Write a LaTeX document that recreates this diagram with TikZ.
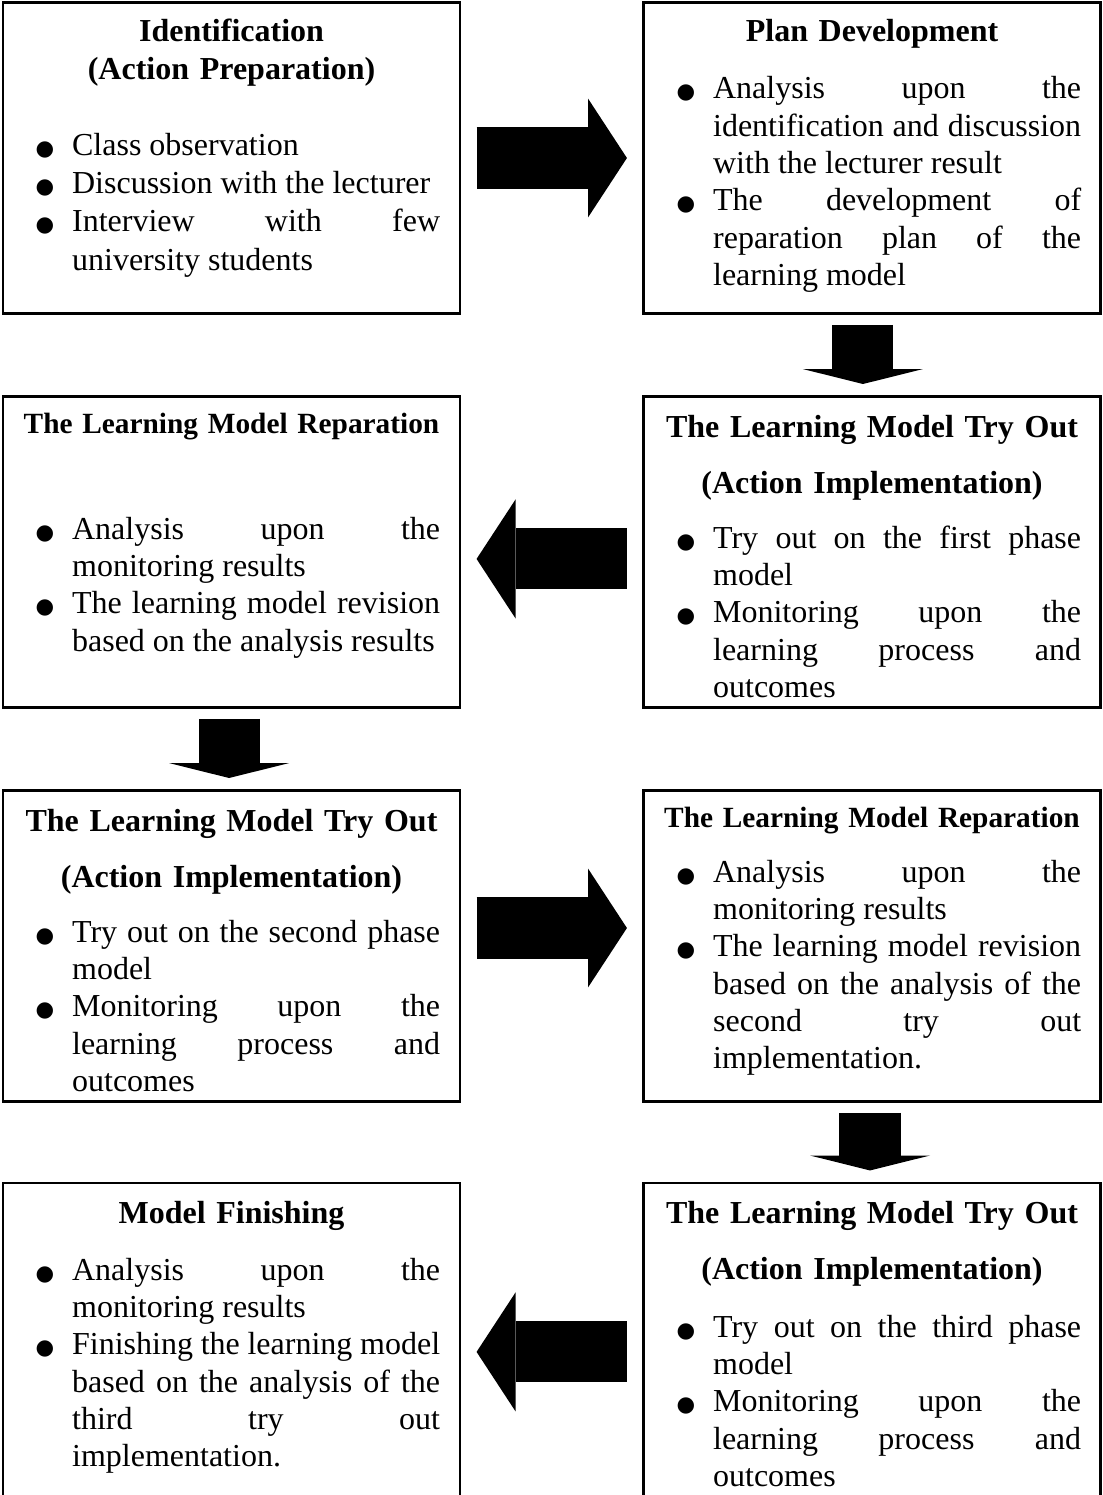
\documentclass[tikz,border=0pt]{standalone}
\usepackage{fontspec}
\setmainfont{Liberation Serif}
\newfontfamily\dotfont{DejaVu Sans}
\usetikzlibrary{arrows.meta, positioning, calc}

\tolerance=10000
\hbadness=10000
\hyphenpenalty=10000

% bullet with a hanging indent
\newcommand{\bitem}{\leavevmode\hangindent=13.35pt\hangafter=1%
    \makebox[13.35pt][l]{\hspace{-0.3pt}{\dotfont\fontsize{8pt}{8pt}\selectfont ●}}}

\begin{document}
\begin{tikzpicture}[
    x=0.375pt, y=-0.375pt,
    box/.style={
        draw,
        line width=0.8pt,
        minimum width=171.4pt,
        minimum height=116.6pt,
        inner sep=0pt,
        outer sep=0pt
    },
    lastbox/.style={box, minimum height=118.9pt},
    heading/.style={
        anchor=base,
        text width=165pt,
        align=center,
        inner sep=0pt,
        font=\fontsize{12pt}{14pt}\selectfont\bfseries
    },
    tryout/.style={heading, font=\fontsize{12pt}{21pt}\selectfont\bfseries},
    reparation/.style={heading, font=\fontsize{11pt}{13pt}\selectfont\bfseries},
    items/.style={
        anchor=base west,
        text width=151.35pt,
        align=justify,
        inner sep=0pt,
        font=\fontsize{12pt}{14pt}\selectfont
    },
    hflow/.style={line width=22.9pt, -{Triangle[length=14.6pt 0, width=44.6pt 0, line width=0pt 0]}, shorten <=6.2pt, shorten >=6.2pt},
    vflow/.style={line width=22.9pt, -{Triangle[length=5.6pt 0, width=45pt 0, line width=0pt 0]}, shorten <=4.3pt, shorten >=4.7pt}
]

% Page
\useasboundingbox (0,0) rectangle (1102,1495);
\clip (0,0) rectangle (1102,1495);
\fill[white] (0,0) rectangle (1102,1495);

% Boxes
\node[box] (ident) at (231.5, 158) {};
\node[box] (plan) at (872, 158) {};
\node[box] (repair1) at (231.5, 552) {};
\node[box] (try1) at (872, 552) {};
\node[box] (try2) at (231.5, 946) {};
\node[box] (repair2) at (872, 946) {};
\node[lastbox] (finish) at (231.5, 1341.5) {};
\node[lastbox] (try3) at (872, 1341.5) {};

% Identification
\node[heading] (ident-title) at (231.5, 42) {Identification\\(Action Preparation)};
\node[items, font=\fontsize{12pt}{14.4pt}\selectfont] (ident-list) at (36, 155) {\bitem Class observation\par
    \bitem Discussion with the lecturer\par
    \bitem Interview with few \linebreak university students\par};

% Plan Development
\node[heading] (plan-title) at (872, 42) {Plan Development};
\node[items] (plan-list) at (677, 99) {\bitem Analysis upon the \linebreak identification and discussion \linebreak with the lecturer result\par
    \bitem The development of \linebreak reparation plan of the \linebreak learning model\par};

% First try out
\node[tryout] (try1-title) at (872, 437) {The Learning Model Try Out\\(Action Implementation)};
\node[items] (try1-list) at (677, 548) {\bitem Try out on the first phase \linebreak model\par
    \bitem Monitoring upon the \linebreak learning process and \linebreak outcomes\par};

% First reparation
\node[reparation] (repair1-title) at (231.5, 433) {The Learning Model Reparation};
\node[items] (repair1-list) at (36, 539) {\bitem Analysis upon the \linebreak monitoring results\par
    \bitem The learning model revision \linebreak based on the analysis results\par};

% Second try out
\node[tryout] (try2-title) at (231.5, 831) {The Learning Model Try Out\\(Action Implementation)};
\node[items] (try2-list) at (36, 942) {\bitem Try out on the second phase \linebreak model\par
    \bitem Monitoring upon the \linebreak learning process and \linebreak outcomes\par};

% Second reparation
\node[reparation] (repair2-title) at (872, 827) {The Learning Model Reparation};
\node[items] (repair2-list) at (677, 882) {\bitem Analysis upon the \linebreak monitoring results\par
    \bitem The learning model revision \linebreak based on the analysis of the \linebreak second try out \linebreak implementation.\par};

% Third try out
\node[tryout] (try3-title) at (872, 1223) {The Learning Model Try Out\\(Action Implementation)};
\node[items] (try3-list) at (677, 1337) {\bitem Try out on the third phase \linebreak model\par
    \bitem Monitoring upon the \linebreak learning process and \linebreak outcomes\par};

% Model Finishing
\node[heading] (finish-title) at (231.5, 1223) {Model Finishing};
\node[items] (finish-list) at (36, 1280) {\bitem Analysis upon the \linebreak monitoring results\par
    \bitem Finishing the learning model \linebreak based on the analysis of the \linebreak third try out \linebreak implementation.\par};

% Horizontal connections
\draw[hflow] (ident) -- (plan);
\draw[hflow] ([yshift=-2.6pt]try1.west) -- ([yshift=-2.6pt]repair1.east);
\draw[hflow] ([yshift=6.75pt]try2.east) -- ([yshift=6.75pt]repair2.west);
\draw[hflow] ([yshift=-3.9pt]try3.west) -- ([yshift=-3.9pt]finish.east);

% Vertical connections
\draw[vflow] ([xshift=-3.4pt]plan.south) -- ([xshift=-3.4pt]try1.north);
\draw[vflow] ([xshift=-0.9pt]repair1.south) -- ([xshift=-0.9pt]try2.north);
\draw[vflow] ([xshift=-0.75pt]repair2.south) -- ([xshift=-0.75pt]try3.north);

\end{tikzpicture}
\end{document}
